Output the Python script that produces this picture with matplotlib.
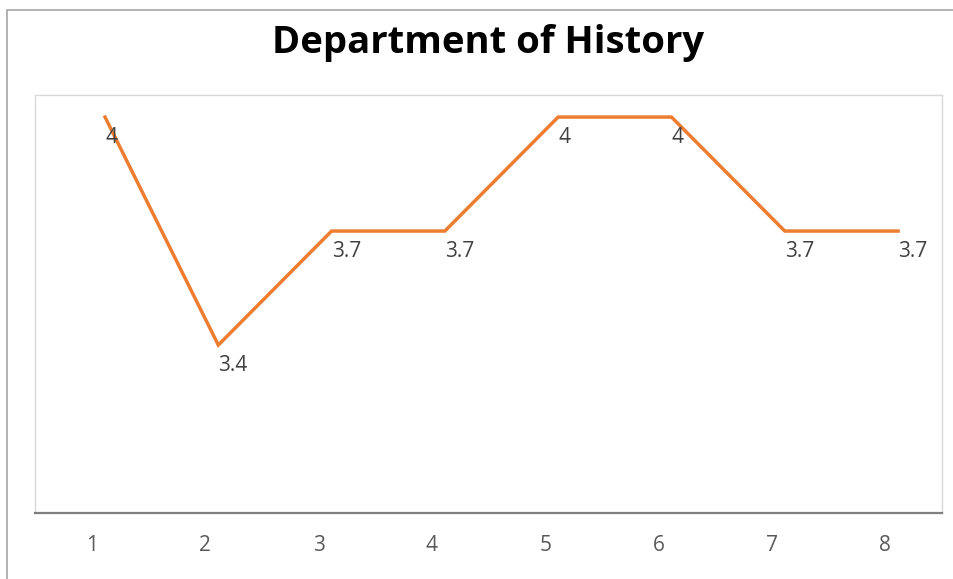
import matplotlib
matplotlib.use("Agg")
import matplotlib.pyplot as plt
from matplotlib.patches import Rectangle
from matplotlib.transforms import ScaledTranslation

# chart data
categories = [1, 2, 3, 4, 5, 6, 7, 8]
scores = [4, 3.4, 3.7, 3.7, 4, 4, 3.7, 3.7]
point_labels = ["4", "3.4", "3.7", "3.7", "4", "4", "3.7", "3.7"]
title = "Department of History"

W, H, DPI = 954, 579, 100
plt.rcParams["font.family"] = ["Open Sans", "DejaVu Sans"]
fig = plt.figure(figsize=(W / DPI, H / DPI), dpi=DPI)

# outer chart border (Excel style)
fig.add_artist(Rectangle((7 / W, -0.05), 1.2, 1 - 10 / H + 0.05,
                         transform=fig.transFigure, fill=False,
                         edgecolor="#a6a6a6", linewidth=1.2))

ax = fig.add_axes([35 / W, (H - 513) / H, (942 - 35) / W, (513 - 95) / H])
ax.plot(categories, scores, color="#ED7D31", linewidth=2.5, solid_joinstyle="miter")

for x, y, lab in zip(categories, scores, point_labels):
    ax.annotate(lab, (x, y), xytext=(0, -26), textcoords="offset pixels",
                ha="left", va="baseline", fontsize=15, color="#404040")

ax.set_xlim(0.382, 8.388)
ax.set_ylim(2.958, 4.058)
ax.set_xticks(categories)
ax.set_xticklabels([str(c) for c in categories], fontsize=15, color="#595959")
ax.tick_params(axis="x", length=0, pad=16)
ax.set_yticks([])
for lbl in ax.get_xticklabels():
    lbl.set_transform(lbl.get_transform() + ScaledTranslation(-13 / DPI, 0, fig.dpi_scale_trans))

for side in ("left", "top", "right"):
    ax.spines[side].set_color("#d9d9d9")
    ax.spines[side].set_linewidth(1.0)
ax.spines["bottom"].set_color("#7f7f7f")
ax.spines["bottom"].set_linewidth(1.6)

fig.text(488 / W, 1 - 53 / H, title, ha="center", va="baseline",
         fontsize=27.5, fontweight="bold", color="#000000")

fig.savefig("out.png", dpi=DPI)
